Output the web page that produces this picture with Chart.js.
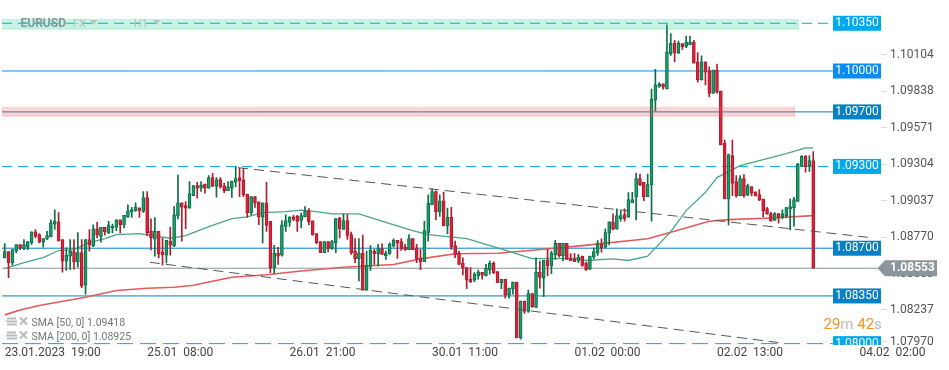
<!DOCTYPE html>
<html>
<head>
<meta charset="utf-8">
<title>EURUSD H1</title>
<script src="https://cdn.jsdelivr.net/npm/chart.js@4"></script>
<style>
html, body { margin: 0; padding: 0; background: #fff; }
canvas { display: block; }
</style>
</head>
<body>
<canvas id="chart" width="949" height="370"></canvas>
<script>
const opens = [
1.08629,1.08676,1.08593,1.08678,1.08727,1.08698,1.08707,1.08739,1.08821,1.08800,
1.08744,1.08768,1.08783,1.08877,1.08894,1.08763,1.08605,1.08642,1.08676,1.08600,
1.08668,1.08428,1.08763,1.08717,1.08843,1.08787,1.08853,1.08812,1.08848,1.08853,
1.08909,1.08870,1.08928,1.08965,1.08975,1.08996,1.08970,1.09072,1.08824,1.08768,
1.08824,1.08671,1.08649,1.08751,1.08717,1.08936,1.09033,1.09013,1.08994,1.09086,
1.09159,1.09140,1.09171,1.09140,1.09218,1.09154,1.09203,1.09157,1.09123,1.09140,
1.09184,1.09218,1.09201,1.09098,1.08958,1.09079,1.09040,1.08928,1.09033,1.08897,
1.08557,1.08664,1.08649,1.08860,1.08890,1.08931,1.08936,1.08903,1.08929,1.08975,
1.08900,1.08808,1.08749,1.08667,1.08749,1.08698,1.08740,1.08922,1.08837,1.08903,
1.08800,1.08679,1.08623,1.08664,1.08392,1.08567,1.08679,1.08660,1.08698,1.08645,
1.08662,1.08715,1.08757,1.08749,1.08708,1.08689,1.08771,1.08703,1.08630,1.08601,
1.08813,1.09019,1.09116,1.08966,1.09048,1.08864,1.08927,1.08720,1.08664,1.08589,
1.08558,1.08472,1.08465,1.08499,1.08524,1.08497,1.08543,1.08589,1.08528,1.08448,
1.08472,1.08358,1.08400,1.08451,1.08042,1.08312,1.08237,1.08368,1.08266,1.08524,
1.08480,1.08611,1.08570,1.08650,1.08735,1.08643,1.08735,1.08628,1.08618,1.08606,
1.08642,1.08593,1.08549,1.08634,1.08664,1.08732,1.08708,1.08810,1.08893,1.08839,
1.08917,1.08947,1.08927,1.09035,1.09074,1.09210,1.09183,1.09078,1.09164,1.09786,
1.09886,1.09906,1.09869,1.10128,1.10203,1.10135,1.10201,1.10181,1.10194,1.10213,
1.10067,1.09937,1.10067,1.10001,1.09835,1.10006,1.09852,1.09471,1.09059,1.09379,
1.09188,1.09086,1.09210,1.09091,1.09152,1.09113,1.09093,1.09061,1.08991,1.08954,
1.08903,1.08954,1.08932,1.08939,1.08986,1.08996,1.09044,1.09300,1.09374,1.09303,
1.09342];
const highs = [
1.08734,1.08676,1.08690,1.08727,1.08727,1.08763,1.08749,1.08821,1.08836,1.08807,
1.08770,1.08824,1.08909,1.08982,1.08962,1.08763,1.08702,1.08763,1.08763,1.08814,
1.08763,1.08763,1.08836,1.08872,1.08890,1.08853,1.08853,1.08897,1.08877,1.08909,
1.08909,1.08941,1.09018,1.08999,1.09033,1.08996,1.09115,1.09115,1.08916,1.08924,
1.08824,1.08775,1.08758,1.08853,1.09006,1.09237,1.09033,1.09043,1.09188,1.09159,
1.09184,1.09188,1.09171,1.09232,1.09249,1.09218,1.09218,1.09176,1.09188,1.09193,
1.09298,1.09286,1.09286,1.09098,1.09079,1.09079,1.09040,1.09033,1.09184,1.08897,
1.08722,1.08707,1.08902,1.08945,1.08931,1.08941,1.08941,1.08958,1.09005,1.08990,
1.08900,1.08808,1.08749,1.08749,1.08749,1.08757,1.08917,1.08927,1.08951,1.08946,
1.08818,1.08771,1.08771,1.08796,1.08679,1.08720,1.08691,1.08728,1.08732,1.08679,
1.08740,1.08769,1.08757,1.08771,1.08728,1.08800,1.08771,1.08728,1.08691,1.08898,
1.09092,1.09136,1.09121,1.09092,1.09112,1.08995,1.09000,1.08752,1.08679,1.08630,
1.08558,1.08558,1.08521,1.08540,1.08524,1.08582,1.08606,1.08601,1.08528,1.08472,
1.08472,1.08407,1.08451,1.08451,1.08312,1.08312,1.08392,1.08368,1.08630,1.08606,
1.08611,1.08691,1.08679,1.08757,1.08735,1.08735,1.08735,1.08660,1.08660,1.08655,
1.08642,1.08598,1.08642,1.08703,1.08756,1.08769,1.08842,1.08893,1.08952,1.08988,
1.08976,1.08988,1.09108,1.09110,1.09252,1.09244,1.09183,1.09244,1.09867,1.10013,
1.09915,1.09906,1.10338,1.10274,1.10225,1.10220,1.10201,1.10257,1.10257,1.10225,
1.10135,1.10111,1.10067,1.10030,1.10006,1.10050,1.09852,1.09493,1.09391,1.09493,
1.09232,1.09232,1.09240,1.09171,1.09152,1.09113,1.09130,1.09061,1.09000,1.08964,
1.08961,1.08954,1.08981,1.09000,1.09061,1.09074,1.09322,1.09379,1.09379,1.09379,
1.09408];
const lows = [
1.08629,1.08484,1.08576,1.08666,1.08690,1.08690,1.08690,1.08727,1.08775,1.08739,
1.08707,1.08763,1.08783,1.08838,1.08751,1.08525,1.08537,1.08544,1.08547,1.08561,
1.08411,1.08362,1.08678,1.08712,1.08775,1.08744,1.08795,1.08807,1.08812,1.08829,
1.08812,1.08848,1.08926,1.08926,1.08970,1.08926,1.08962,1.08792,1.08688,1.08642,
1.08629,1.08576,1.08593,1.08649,1.08712,1.08914,1.08751,1.08843,1.08994,1.09086,
1.09067,1.09116,1.09103,1.09140,1.09154,1.09074,1.09140,1.09108,1.09123,1.09072,
1.09152,1.09079,1.09079,1.08926,1.08945,1.08999,1.08872,1.08739,1.08824,1.08520,
1.08513,1.08581,1.08642,1.08824,1.08860,1.08902,1.08824,1.08849,1.08929,1.08873,
1.08796,1.08732,1.08667,1.08667,1.08674,1.08691,1.08667,1.08776,1.08837,1.08764,
1.08655,1.08594,1.08460,1.08392,1.08392,1.08538,1.08582,1.08570,1.08655,1.08618,
1.08655,1.08708,1.08626,1.08684,1.08684,1.08689,1.08689,1.08594,1.08543,1.08601,
1.08752,1.09019,1.08910,1.08934,1.08864,1.08805,1.08691,1.08630,1.08577,1.08504,
1.08404,1.08448,1.08455,1.08472,1.08472,1.08497,1.08509,1.08514,1.08448,1.08404,
1.08334,1.08334,1.08363,1.08042,1.08033,1.08222,1.08229,1.08266,1.08266,1.08407,
1.08344,1.08497,1.08514,1.08618,1.08635,1.08606,1.08618,1.08609,1.08601,1.08594,
1.08566,1.08537,1.08542,1.08622,1.08647,1.08671,1.08703,1.08725,1.08834,1.08839,
1.08898,1.08898,1.08927,1.09035,1.08908,1.09159,1.09049,1.09078,1.08898,1.09708,
1.09879,1.09867,1.09869,1.10115,1.10069,1.10128,1.10159,1.10172,1.10191,1.10057,
1.09918,1.09932,1.09898,1.09810,1.09835,1.09837,1.09457,1.09061,1.08871,1.09086,
1.09074,1.09086,1.09074,1.09086,1.09083,1.09083,1.09049,1.08932,1.08949,1.08898,
1.08903,1.08883,1.08915,1.08922,1.08834,1.08859,1.09044,1.09298,1.09257,1.09264,
1.08553];
const closes = [
1.08676,1.08593,1.08690,1.08727,1.08702,1.08727,1.08749,1.08821,1.08787,1.08744,
1.08770,1.08792,1.08887,1.08897,1.08756,1.08605,1.08647,1.08678,1.08600,1.08668,
1.08423,1.08763,1.08722,1.08843,1.08795,1.08853,1.08819,1.08872,1.08863,1.08909,
1.08872,1.08941,1.08975,1.08984,1.08999,1.08975,1.09072,1.08812,1.08775,1.08824,
1.08659,1.08651,1.08758,1.08722,1.08945,1.09033,1.09001,1.08994,1.09101,1.09159,
1.09140,1.09164,1.09140,1.09218,1.09154,1.09203,1.09150,1.09123,1.09150,1.09193,
1.09210,1.09196,1.09091,1.08958,1.09079,1.09030,1.08928,1.09033,1.08868,1.08557,
1.08664,1.08642,1.08872,1.08902,1.08931,1.08911,1.08897,1.08939,1.08975,1.08893,
1.08800,1.08740,1.08667,1.08749,1.08698,1.08749,1.08917,1.08844,1.08903,1.08793,
1.08667,1.08623,1.08664,1.08392,1.08575,1.08684,1.08660,1.08698,1.08655,1.08664,
1.08730,1.08759,1.08737,1.08698,1.08689,1.08771,1.08689,1.08623,1.08601,1.08830,
1.09029,1.09116,1.08966,1.09048,1.08864,1.08927,1.08708,1.08655,1.08582,1.08553,
1.08465,1.08455,1.08509,1.08526,1.08502,1.08553,1.08589,1.08521,1.08448,1.08472,
1.08358,1.08407,1.08451,1.08042,1.08312,1.08237,1.08368,1.08271,1.08524,1.08485,
1.08611,1.08570,1.08664,1.08735,1.08643,1.08735,1.08618,1.08609,1.08601,1.08635,
1.08573,1.08542,1.08642,1.08676,1.08732,1.08703,1.08815,1.08893,1.08839,1.08939,
1.08939,1.08917,1.09057,1.09057,1.09210,1.09166,1.09078,1.09166,1.09793,1.09898,
1.09906,1.09881,1.10140,1.10203,1.10135,1.10203,1.10179,1.10213,1.10213,1.10057,
1.09937,1.10067,1.09991,1.09835,1.10006,1.09845,1.09457,1.09061,1.09386,1.09176,
1.09086,1.09210,1.09083,1.09159,1.09103,1.09083,1.09052,1.08976,1.08949,1.08898,
1.08954,1.08922,1.08954,1.08998,1.09005,1.09057,1.09318,1.09374,1.09298,1.09342,
1.08553];

const sma50Idx = [0,5,10,14,18,22,26,29,35,40,43,47,53,59,63,67,73,77,82,85,92,99,106,110,120,128,137,149,151,158,162,167,173,177,182,185,191,203,208,210];
const sma50Val = [1.08551,1.08595,1.08631,1.08683,1.08690,1.08741,1.08771,1.08800,1.08807,1.08785,1.08773,1.08793,1.08859,1.08917,1.08930,1.08961,1.08969,1.08980,1.08964,1.08952,1.08952,1.08890,1.08829,1.08800,1.08771,1.08703,1.08624,1.08624,1.08610,1.08622,1.08610,1.08641,1.08822,1.08976,1.09110,1.09218,1.09306,1.09394,1.09436,1.09436];
const sma200Idx = [0,4,9,14,21,29,37,44,49,59,68,77,88,101,108,117,128,140,150,167,173,183,188,199,210];
const sma200Val = [1.08211,1.08247,1.08280,1.08305,1.08340,1.08390,1.08406,1.08414,1.08428,1.08487,1.08505,1.08533,1.08560,1.08580,1.08622,1.08659,1.08663,1.08692,1.08719,1.08769,1.08817,1.08898,1.08910,1.08922,1.08939];

const levelPrices = [1.1035, 1.1, 1.097, 1.093, 1.087, 1.0835, 1.08];
const levelLabels = ["1.10350", "1.10000", "1.09700", "1.09300", "1.08700", "1.08350", "1.08000"];
const levelColors = ["#00a8ee", "#0a8cf5", "#0780c4", "#00a8ee", "#0780c4", "#0780c4", "#00a8ee"];
const levelDashes = [[10, 6], [], [], [10, 6], [], [], [16, 7]];

const lastPrice = 1.08553;
const trendUpperIdx = [60.6, 224.2];
const trendUpperVal = [1.09291, 1.08780];
const trendLowerIdx = [37.7, 200.9];
const trendLowerVal = [1.08597, 1.08008];

const yTickLabels = ["1.10104", "1.09838", "1.09571", "1.09304", "1.09037", "1.08770", "1.08503", "1.08237", "1.07970"];
const yTickAt = [1.10119, 1.09852, 1.09584, 1.09316, 1.09049, 1.08781, 1.08514, 1.08250, 1.08015];
const xTickAt = [0, 37, 74, 111, 148, 185, 222];
const xTickLabels = ["23.01.2023  19:00", "25.01  08:00", "26.01  21:00", "30.01  11:00", "01.02  00:00", "02.02  13:00", "04.02  02:00"];

const xMin = -0.7, xMax = 227.6;
const levelEnd = 215.1, lastEnd = 226.8;

const up = closes.map((c, i) => c >= opens[i]);
const points = (xs, ys) => xs.map((x, i) => ({x: x, y: ys[i]}));

const levelSets = levelPrices.map((p, i) => ({
    type: "line",
    data: [{x: xMin, y: p}, {x: levelEnd, y: p}],
    borderColor: levelColors[i],
    borderWidth: 1,
    borderDash: levelDashes[i],
    pointRadius: 0,
    order: 6
}));

const lineSet = (data, color, width, dash, order) => ({
    type: "line",
    data: data,
    borderColor: color,
    borderWidth: width,
    borderDash: dash,
    pointRadius: 0,
    tension: 0,
    order: order
});

// draws what Chart.js has no element for: zones, price tags, header and legend text
const overlay = {
    id: "overlay",
    afterDraw(chart) {
        const ctx = chart.ctx, x = chart.scales.x, y = chart.scales.y, area = chart.chartArea;
        ctx.save();
        ctx.textBaseline = "middle";

        const zone = (top, bottom, end, fill, stroke) => {
            const y1 = y.getPixelForValue(top), y2 = y.getPixelForValue(bottom), x2 = x.getPixelForValue(end);
            ctx.fillStyle = fill;
            ctx.fillRect(area.left, y1, x2 - area.left, y2 - y1);
            ctx.fillStyle = stroke;
            ctx.fillRect(area.left, y2 - 1, x2 - area.left, 1);
            ctx.fillRect(x2 - 1, y1, 1, y2 - y1);
        };
        zone(1.10383, 1.10305, 206.2, "rgba(35,207,143,0.25)", "rgba(35,207,143,0.2)");
        zone(1.09738, 1.09667, 205.2, "rgba(239,87,87,0.25)", "rgba(239,87,87,0.2)");

        // level tags on the right
        ctx.font = "12px Roboto";
        ctx.textAlign = "center";
        levelPrices.forEach((p, i) => {
            const py = y.getPixelForValue(p);
            const top = py - 7.5, bottom = Math.min(py + 7.5, area.bottom);
            ctx.fillStyle = levelColors[i];
            ctx.fillRect(833, top, 48, bottom - top);
            ctx.fillStyle = "#fff";
            ctx.fillText(levelLabels[i], 857, py);
        });

        // last price tag
        const ly = y.getPixelForValue(lastPrice);
        ctx.fillStyle = "#8b969b";
        ctx.beginPath();
        ctx.moveTo(877.5, ly);
        ctx.lineTo(885, ly - 8);
        ctx.lineTo(937, ly - 8);
        ctx.lineTo(937, ly + 8);
        ctx.lineTo(885, ly + 8);
        ctx.closePath();
        ctx.fill();
        ctx.fillStyle = "#fff";
        ctx.font = "bold 12px Roboto";
        ctx.textAlign = "left";
        ctx.fillText(lastPrice.toFixed(5), 890, ly);

        // instrument header
        ctx.fillStyle = "#7f9c96";
        ctx.font = "bold 12px Roboto";
        ctx.fillText("EURUSD", 20.5, 23.5);
        ctx.fillStyle = "#aec4be";
        ctx.font = "11px Roboto";
        ctx.fillText("FX", 73, 24);
        ctx.fillText("H1", 134, 24);
        [90, 153].forEach(tx => {
            ctx.beginPath();
            ctx.moveTo(tx, 20);
            ctx.lineTo(tx + 7, 20);
            ctx.lineTo(tx + 3.5, 24.5);
            ctx.closePath();
            ctx.fill();
        });

        // indicator legend
        [["SMA [50, 0] 1.09418", 323.5], ["SMA [200, 0] 1.08925", 337.5]].forEach(row => {
            const ty = row[1];
            ctx.fillStyle = "#bbb";
            ctx.fillRect(7, ty - 6, 9, 2);
            ctx.fillRect(6, ty - 3, 11, 2);
            ctx.fillRect(7, ty, 10, 2);
            ctx.strokeStyle = "#bbb";
            ctx.lineWidth = 2;
            ctx.beginPath();
            ctx.moveTo(20, ty - 6);
            ctx.lineTo(27, ty + 1);
            ctx.moveTo(27, ty - 6);
            ctx.lineTo(20, ty + 1);
            ctx.stroke();
            ctx.fillStyle = "#777";
            ctx.font = "10.5px Roboto";
            ctx.fillText(row[0], 31.5, ty);
        });

        // candle countdown
        ctx.font = "15px Roboto";
        let cx = 823.5;
        [["29", "#f7941d"], ["m ", "#bbb"], ["42", "#f7941d"], ["s", "#bbb"]].forEach(part => {
            ctx.fillStyle = part[1];
            ctx.fillText(part[0], cx, 325);
            cx += ctx.measureText(part[0]).width;
        });
        ctx.restore();
    }
};

new Chart("chart", {
    type: "bar",
    plugins: [overlay],
    data: {
        datasets: [
            {
                data: highs.map((h, i) => ({x: i, y: [lows[i], h]})),
                grouped: false,
                barThickness: 1,
                backgroundColor: up.map(u => u ? "#0b6e47" : "#b01c2e"),
                order: 3
            },
            {
                data: opens.map((o, i) => ({x: i, y: [o, closes[i]]})),
                grouped: false,
                barThickness: 3,
                borderWidth: 1,
                borderSkipped: false,
                backgroundColor: up.map(u => u ? "#18a06c" : "#e0203a"),
                borderColor: up.map(u => u ? "#0b6e47" : "#b01c2e"),
                order: 2
            },
            lineSet(points(sma50Idx, sma50Val), "#4aa683", 1.3, [], 4),
            lineSet(points(sma200Idx, sma200Val), "#e25c5c", 1.6, [], 4),
            lineSet(points(trendUpperIdx, trendUpperVal), "#555", 1, [10, 6], 1),
            lineSet(points(trendLowerIdx, trendLowerVal), "#555", 1, [10, 6], 1),
            lineSet([{x: xMin, y: lastPrice}, {x: lastEnd, y: lastPrice}], "#8b969b", 1, [], 5),
            ...levelSets
        ]
    },
    options: {
        responsive: false,
        animation: false,
        layout: {padding: {left: 2, top: 10}},
        plugins: {
            legend: {display: false},
            tooltip: {enabled: false}
        },
        scales: {
            x: {
                type: "linear",
                min: xMin,
                max: xMax,
                offset: false,
                border: {display: false},
                grid: {display: false, drawTicks: false, offset: false},
                afterBuildTicks: axis => { axis.ticks = xTickAt.map(v => ({value: v})); },
                afterFit: axis => { axis.height = 25; },
                ticks: {
                    autoSkip: false,
                    maxRotation: 0,
                    align: "start",
                    padding: 1,
                    color: "#444",
                    font: {family: "Roboto", size: 12},
                    callback: (v, i) => xTickLabels[i]
                }
            },
            y: {
                type: "linear",
                position: "right",
                min: 1.07990,
                max: 1.10446,
                border: {display: false},
                grid: {drawOnChartArea: false, tickLength: 6, tickColor: "#ddd"},
                afterBuildTicks: axis => { axis.ticks = yTickAt.map(v => ({value: v})); },
                afterFit: axis => { axis.width = 68; },
                ticks: {
                    autoSkip: false,
                    padding: 3,
                    color: "#555",
                    font: {family: "Roboto", size: 12},
                    callback: (v, i) => yTickLabels[i]
                }
            }
        }
    }
});
</script>
</body>
</html>
